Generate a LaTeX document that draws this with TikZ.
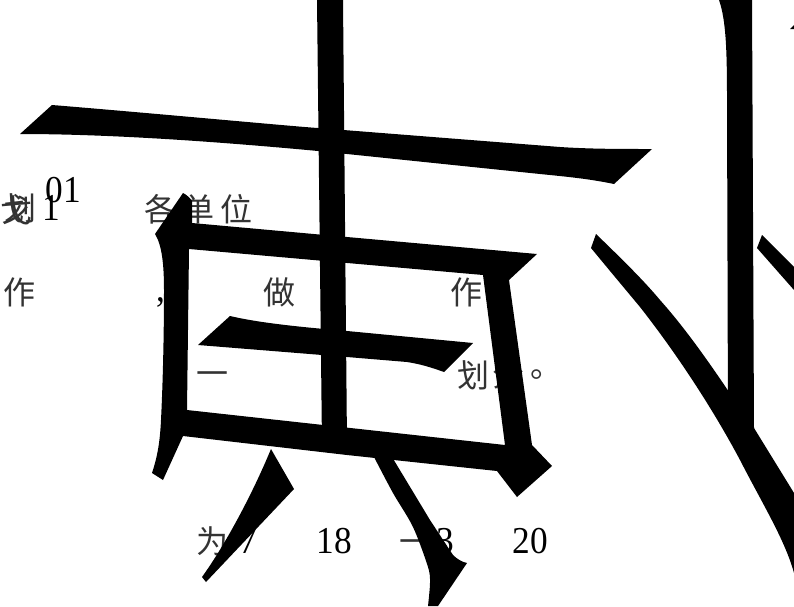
\documentclass[tikz,border=0pt]{standalone}
\usepackage{fontspec}
\setmainfont{Liberation Serif}
\newfontfamily\cjk{Noto Sans CJK SC}
\begin{document}
\begin{tikzpicture}[x=1pt,y=-1pt,
  zh/.style={inner sep=0pt,text=black!80,font=\cjk\fontsize{32}{32}\selectfont},
  num/.style={inner sep=0pt,xscale=.93,font=\fontsize{38}{38}\selectfont},
  ink/.style={fill=black,draw=none}]
\useasboundingbox (0,0) rectangle (794,606);
\clip (0,0) rectangle (794,606);
\fill[white] (0,0) rectangle (794,606);
% small text, under the big glyph
\node[zh] (a1) at (21,208) {划};
\node[zh] (a2) at (16,210) {戈};
\node[num] (a3) at (51,208) {1};
\node[num] (a4) at (63,190) {01};
\node[zh] (a5) at (160,209) {各};
\node[zh] (a6) at (198,209) {单};
\node[zh] (a7) at (236,209) {位};
\node[zh] (b1) at (20,292) {作};
\node[num] (b2) at (161,302) {,};
\node[zh] (b3) at (279,292) {做};
\node[zh] (b4) at (466,292) {作};
\node[zh] (c1) at (212,379) {一};
\node[zh] (c2) at (473,375) {划};
\node[zh] (c3) at (508,375) {分};
\node[zh] (c4) at (546,375) {。};
\node[zh] (d1) at (212,541) {为};
\node[num] (d2) at (248,541) {7};
\node[num] (d3) at (334,541) {18};
\node[zh] (d4) at (415,547) {一};
\node[num] (d5) at (445,541) {3};
\node[num] (d6) at (530,541) {20};
% top horizontal
\fill[ink] (52,105) .. controls (150,113) and (300,127) .. (318,128)
  -- (560,147) .. controls (590,149) and (620,149) .. (652,149)
  -- (614,184) .. controls (590,179) and (570,177) .. (540,174)
  -- (318,151) .. controls (200,140) and (100,134) .. (20,134) -- cycle;
% central vertical
\fill[ink] (317,0) -- (343,0) -- (347,445) -- (322,445) -- cycle;
% box: outline with its opening left free
\fill[ink,even odd rule] (183,193) .. controls (187,195) and (190,198) .. (192,201)
  -- (192,223) -- (347,237) -- (537,254) -- (509,280) -- (532,445)
  -- (552,466) -- (517,497) -- (497,471) -- (347,455) -- (183,436)
  -- (163,480) -- (152,473) .. controls (158,455) and (160,440) .. (161,420)
  .. controls (163,380) and (164,330) .. (164,290)
  .. controls (164,265) and (162,245) .. (155,234) -- cycle
  (189,249) -- (483,275) -- (505,445) -- (187,410) -- cycle;
% inner horizontal
\fill[ink] (230,316) .. controls (260,323) and (300,327) .. (347,331)
  -- (473,343) -- (444,372) .. controls (430,367) and (420,364) .. (407,362)
  -- (347,357) -- (198,345) -- cycle;
% left leg
\fill[ink] (271,449) -- (294,489) -- (206,582) -- (202,577)
  .. controls (225,545) and (252,495) .. (271,449) -- cycle;
% right leg
\fill[ink] (374,457) -- (392,457) -- (430,520) -- (453,555)
  .. controls (457,559) and (462,562) .. (467,563)
  -- (438,606) -- (428,606) -- plot[smooth] coordinates {(428,606) (430,583) (428,567) (413,527) (393,493) (374,457)} -- cycle;
% long vertical with hook
\fill[ink] (719,0) -- (752,0) -- (754,430) -- (728,430) -- (727,100)
  .. controls (727,50) and (726,20) .. (719,0) -- cycle;
% long diagonal
\fill[ink] (596,234) .. controls (625,262) and (645,282) .. (660,300)
  .. controls (685,328) and (708,361) .. (727,389)
  -- (754,428) -- (794,493) -- (794,573)
  .. controls (785,540) and (762,503) .. (740,460)
  .. controls (715,413) and (680,358) .. (640,307)
  .. controls (620,283) and (605,265) .. (591,248) -- cycle;
% second diagonal at the edge
\fill[ink] (762,235) -- (794,267) -- (794,290) -- (757,248) -- cycle;
% fragment of the next glyph
\fill[ink] (790,29) -- (794,25) -- (794,29) -- cycle;
\end{tikzpicture}
\end{document}
